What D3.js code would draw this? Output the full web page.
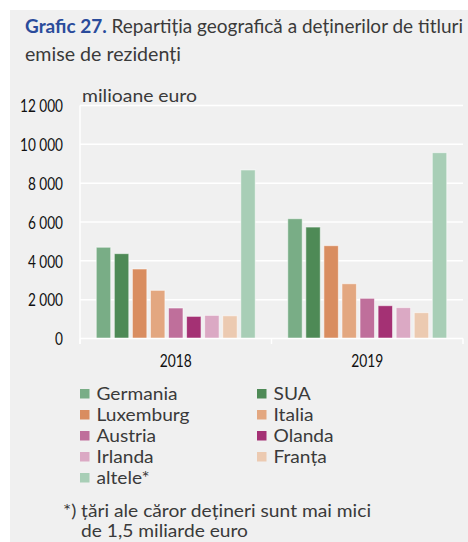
<!DOCTYPE html>
<html><head><meta charset="utf-8">
<script src="https://cdn.jsdelivr.net/npm/d3@7"></script>
<style>body{margin:0;background:#fff}svg{display:block}</style>
</head><body>
<svg id="c" width="468" height="542"></svg>
<script>
const years = ["2018", "2019"];
const series = ["Germania","SUA","Luxemburg","Italia","Austria","Olanda","Irlanda","Franța","altele*"];
const values2018 = [4700, 4370, 3580, 2480, 1570, 1140, 1190, 1170, 8680];
const values2019 = [6170, 5740, 4780, 2820, 2070, 1690, 1590, 1330, 9570];
const colors = ["#79ad86","#4e8a56","#d98d60","#e3a780","#bf6f9b","#a43174","#dba9c4","#eccab1","#a8ceb6"];
const yTicks = [0, 2000, 4000, 6000, 8000, 10000, 12000];
const titleBold = "Grafic 27.";
const titleRest = " Repartiția geografică a deținerilor de titluri";
const titleLine2 = "emise de rezidenți";
const unitLabel = "milioane euro";
const footnote = ["*) țări ale căror dețineri sunt mai mici", "de 1,5 miliarde euro"];

const data = years.map((yr, i) => ({year: yr, vals: (i === 0 ? values2018 : values2019).map((v, j) => ({s: series[j], v}))}));

const svg = d3.select("#c");
const txt = "#3a3a3a";
const sans = "Lato, 'Open Sans', sans-serif";
const numFont = "Lato, 'Open Sans', sans-serif";

svg.append("rect").attr("x", 10).attr("y", 10).attr("width", 458).attr("height", 532).attr("fill", "#f0f0f0");

function fit(sel, w) {
  const L = sel.node().getComputedTextLength();
  if (Math.abs(L - w) > 1) sel.attr("textLength", w).attr("lengthAdjust", "spacingAndGlyphs");
}
function stretch(sel, k) {
  sel.each(function() {
    const L = this.getComputedTextLength();
    d3.select(this).attr("textLength", L * k).attr("lengthAdjust", "spacingAndGlyphs");
  });
}

const t1 = svg.append("text").attr("x", 25).attr("y", 33).attr("font-family", sans).attr("font-size", 18.5).attr("fill", txt);
t1.append("tspan").attr("font-weight", "bold").attr("fill", "#2a4b9b").text(titleBold);
t1.append("tspan").text(titleRest);
fit(t1, 438);
const t2 = svg.append("text").attr("x", 25).attr("y", 61).attr("font-family", sans).attr("font-size", 18.5).attr("fill", txt).text(titleLine2);
fit(t2, 156);

const pL = 80, pR = 463, pT = 105.5, pB = 338.5;
const y = d3.scaleLinear().domain([0, 12000]).range([pB, pT]);
const x0 = d3.scaleBand().domain(years).range([pL, pR]).padding(0);
const x1 = d3.scaleBand().domain(series).range([0, x0.bandwidth()]).paddingInner(0.2).paddingOuter(0.9);
const color = d3.scaleOrdinal().domain(series).range(colors);

// gridlines
svg.append("g").selectAll("line").data(yTicks.filter(d => d > 0)).join("line")
  .attr("x1", pL).attr("x2", pR).attr("y1", d => y(d)).attr("y2", d => y(d))
  .attr("stroke", "#fff").attr("stroke-width", 1.5);

// y axis labels
const loc = d3.formatLocale({decimal: ",", thousands: " ", grouping: [3], currency: ["", ""]});
const yAxis = d3.axisLeft(y).tickValues(yTicks).tickSize(0).tickPadding(0).tickFormat(loc.format(",d"));
const gy = svg.append("g").attr("transform", `translate(63,0)`).call(yAxis);
gy.select(".domain").remove();
const yl = gy.selectAll("text").attr("font-family", numFont).attr("font-size", 17.5).attr("fill", "#111").attr("dy", "0.36em");
const wMax = d3.max(yl.nodes(), n => n.getComputedTextLength());
const kNum = 43 / wMax;
stretch(yl, kNum);
svg.append("line").attr("x1", pL).attr("x2", pL).attr("y1", pT).attr("y2", 344).attr("stroke", "#fff").attr("stroke-width", 1.5);

// bars
const groups = svg.append("g").selectAll("g").data(data).join("g")
  .attr("transform", d => `translate(${x0(d.year)},0)`);
groups.selectAll("rect").data(d => d.vals).join("rect")
  .attr("x", d => x1(d.s)).attr("width", x1.bandwidth())
  .attr("y", d => y(d.v)).attr("height", d => y(0) - y(d.v))
  .attr("fill", d => color(d.s))
  .attr("stroke", "rgba(255,255,255,0.55)").attr("stroke-width", 1);

// x axis
const gx = svg.append("g").attr("transform", `translate(0,${pB})`);
gx.append("line").attr("x1", pL).attr("x2", pR).attr("stroke", "#fff").attr("stroke-width", 1.5);
const bounds = [x0(years[0]), ...years.map(d => x0(d) + x0.bandwidth())];
gx.selectAll("line.tk").data(bounds).join("line").attr("class", "tk")
  .attr("x1", d => d).attr("x2", d => d).attr("y1", 0).attr("y2", 5.5).attr("stroke", "#fff").attr("stroke-width", 1.5);
const xAxis = d3.axisBottom(x0).tickSize(0).tickPadding(0);
const gxl = svg.append("g").attr("transform", `translate(0,${pB})`).call(xAxis);
gxl.select(".domain").remove();
const xl = gxl.selectAll("text").attr("font-family", numFont).attr("font-size", 17.5).attr("fill", "#111").attr("dy", null).attr("y", 28);
stretch(xl, 32 / xl.node().getComputedTextLength());

// unit label
const ul = svg.append("text").attr("x", 82).attr("y", 102).attr("font-family", sans).attr("font-size", 17.5).attr("fill", txt).text(unitLabel);
fit(ul, 115);

// legend
const lg = svg.append("g").selectAll("g").data(series).join("g")
  .attr("transform", (d, i) => `translate(${i % 2 === 0 ? 80 : 257},${393.5 + Math.floor(i / 2) * 21})`);
lg.append("rect").attr("x", 0).attr("y", -4.5).attr("width", 9.5).attr("height", 9.5).attr("fill", d => color(d));
const lt = lg.append("text").attr("x", 16.5).attr("y", 6.3).attr("font-family", sans).attr("font-size", 17).attr("fill", txt).text(d => d);
const wG = lt.filter(d => d === "Germania").node().getComputedTextLength();
stretch(lt, 81 / wG);

// footnote
const f1 = svg.append("text").attr("x", 63).attr("y", 516.5).attr("font-family", sans).attr("font-size", 16.5).attr("fill", txt).text(footnote[0]);
fit(f1, 308);
const f2 = svg.append("text").attr("x", 81).attr("y", 536.5).attr("font-family", sans).attr("font-size", 16.5).attr("fill", txt).text(footnote[1]);
fit(f2, 167);
</script>
</body></html>
